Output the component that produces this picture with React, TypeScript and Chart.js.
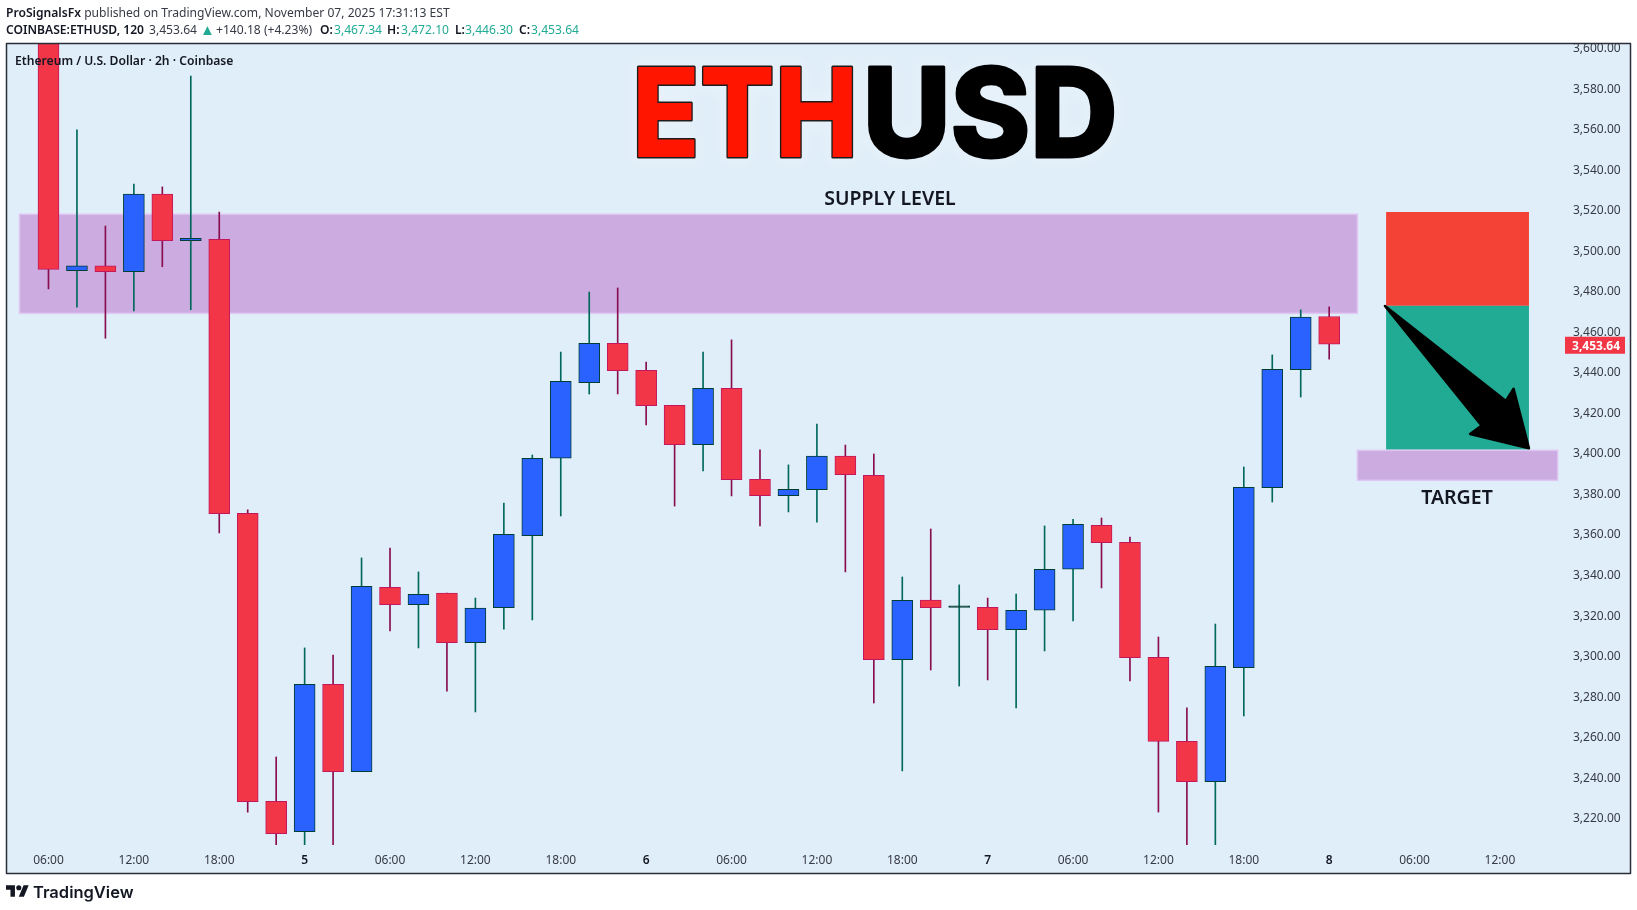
import React, { useEffect, useRef } from 'react'
import { Chart, type Plugin } from 'chart.js/auto'

// 2h candles, blue = up, red = down
const opens = [3650, 3490, 3492.3, 3489.5, 3527.7, 3504.8, 3505.4, 3370.2, 3228.1, 3213.1, 3285.8, 3242.7, 3333.7, 3325.1, 3330.8, 3306.4, 3323.6, 3359.2, 3397.4, 3434.7, 3454.1, 3440.8, 3423.5, 3404.1, 3431.9, 3387, 3378.9, 3381.9, 3398.4, 3389, 3298, 3327.4, 3323.8, 3323.8, 3312.8, 3322.4, 3342.6, 3364.3, 3355.9, 3299.2, 3257.7, 3237.8, 3294, 3382.9, 3441.1, 3467.34]
const highs = [3655, 3559.4, 3512, 3532.7, 3531.3, 3586, 3518.9, 3371.9, 3250, 3303.8, 3300.3, 3348.2, 3353.1, 3341.3, 3330.8, 3328.4, 3375.3, 3399, 3449.8, 3479.4, 3481.4, 3444.9, 3423.5, 3449.8, 3455.8, 3401.5, 3394.1, 3414.3, 3403.9, 3399.5, 3338.8, 3362.5, 3334.9, 3328.4, 3330.4, 3364, 3367.3, 3367.9, 3358.5, 3309.2, 3274.2, 3315.6, 3393.1, 3448.4, 3470.6, 3472.1]
const lows = [3481, 3472, 3456.6, 3470.1, 3491.9, 3470.7, 3360.5, 3222.8, 3206.5, 3206.5, 3206.5, 3242.7, 3312.2, 3303.8, 3282.5, 3272.2, 3313.1, 3317.6, 3368.9, 3429.1, 3429.1, 3413.8, 3373.8, 3391.1, 3378.8, 3364, 3370.9, 3365.9, 3341.3, 3276.6, 3243.1, 3292.9, 3285, 3288, 3274.2, 3302.3, 3317.1, 3333.4, 3287.5, 3222.8, 3206.7, 3206.7, 3270.2, 3375.8, 3427.6, 3446.3]
const closes = [3490.6, 3492.3, 3489.5, 3527.7, 3504.8, 3505.9, 3370, 3227.9, 3212.1, 3285.8, 3242.7, 3334.2, 3325.1, 3330.3, 3306.4, 3323.4, 3359.9, 3397.4, 3435.4, 3454.1, 3440.6, 3423.3, 3404.1, 3431.9, 3386.8, 3378.9, 3382.1, 3398.4, 3389.3, 3298, 3327.3, 3323.6, 3323.9, 3312.8, 3322.4, 3342.6, 3364.8, 3355.7, 3299, 3257.7, 3237.8, 3294.7, 3383.1, 3441.3, 3467, 3453.64]

// one label every 3 candles, starting at the first
const timeLabels = ['06:00', '12:00', '18:00', '5', '06:00', '12:00', '18:00', '6', '06:00', '12:00', '18:00', '7', '06:00', '12:00', '18:00', '8', '06:00', '12:00']
const dayLabels = ['5', '6', '7', '8']

const lastPrice = 3453.64

// [from candle, to candle, top price, bottom price]
const supplyZone = [-1.02, 45.99, 3517.8, 3468.9]
const targetZone = [45.99, 53.03, 3401.3, 3386.5]
const riskBox = [47.0, 52.02, 3518.9, 3472.6]
const rewardBox = [47.0, 52.02, 3472.6, 3401.6]
// [candle, price]
const arrowShape = [[46.96, 3472.5], [51.21, 3425.65], [51.48, 3431.7], [52.02, 3402.3], [49.95, 3409.4], [50.36, 3413.5]]

const UI_FONT = '"Noto Sans", sans-serif'
const BG = '#e0eef9'

const isDayTick = (c: any) => c.tick !== undefined && dayLabels.includes(timeLabels[Math.round(c.tick.value / 3)])

const annotations: Plugin<'bar'> = {
    id: 'annotations',
    beforeDraw(chart) {
        const { ctx } = chart
        ctx.save()
        ctx.fillStyle = BG
        ctx.fillRect(6.5, 43.5, 1624, 830)
        ctx.restore()
    },
    beforeDatasetsDraw(chart) {
        const { ctx, scales } = chart
        const x = scales.x
        const y = scales.y
        const box = (z: number[], fill: string, stroke?: string) => {
            const px = x.getPixelForValue(z[0])
            const py = y.getPixelForValue(z[2])
            const w = x.getPixelForValue(z[1]) - px
            const h = y.getPixelForValue(z[3]) - py
            ctx.fillStyle = fill
            ctx.fillRect(px, py, w, h)
            if (stroke) {
                ctx.strokeStyle = stroke
                ctx.lineWidth = 1.5
                ctx.strokeRect(px, py, w, h)
            }
        }
        ctx.save()
        box(riskBox, '#f44336')
        box(rewardBox, '#22ab94')
        box(supplyZone, '#cbabe0', '#dfc6f3')
        box(targetZone, '#cbabe0', '#dfc6f3')
        ctx.restore()
    },
    afterDraw(chart) {
        const { ctx, scales } = chart
        const x = scales.x
        const y = scales.y
        ctx.save()

        // arrow
        ctx.beginPath()
        arrowShape.forEach(([c, p], i) => {
            const px = x.getPixelForValue(c)
            const py = y.getPixelForValue(p)
            if (i === 0) ctx.moveTo(px, py)
            else ctx.lineTo(px, py)
        })
        ctx.closePath()
        ctx.fillStyle = '#000000'
        ctx.strokeStyle = '#000000'
        ctx.lineWidth = 2.5
        ctx.lineJoin = 'round'
        ctx.fill()
        ctx.stroke()

        // big title, fitted to its width
        const title = (text: string, left: number, width: number, fill: string, stroke: string) => {
            ctx.save()
            ctx.font = '800 124px Inter, sans-serif'
            const scale = width / ctx.measureText(text).width
            ctx.translate(left, 157)
            ctx.scale(scale, 1)
            ctx.lineJoin = 'round'
            ctx.lineWidth = 3
            ctx.strokeStyle = stroke
            ctx.fillStyle = fill
            ctx.textBaseline = 'alphabetic'
            ctx.shadowColor = 'rgba(255,255,255,0.95)'
            ctx.shadowBlur = 16
            ctx.strokeText(text, 0, 0)
            ctx.shadowBlur = 0
            ctx.fillText(text, 0, 0)
            ctx.restore()
        }
        title('ETH', 632, 226, '#ff1500', '#1c1c1c')
        title('USD', 862.7, 255, '#000000', '#000000')

        ctx.textBaseline = 'middle'
        ctx.textAlign = 'center'
        ctx.fillStyle = '#131722'
        ctx.font = `600 19.5px ${UI_FONT}`
        ctx.fillText('SUPPLY LEVEL', 890, 199)
        ctx.fillText('TARGET', 1457, 498)

        ctx.textAlign = 'left'
        ctx.font = `600 12.15px ${UI_FONT}`
        ctx.fillText('Ethereum / U.S. Dollar · 2h · Coinbase', 15, 61.5)

        // last price tag
        const tagY = y.getPixelForValue(lastPrice) + 1
        ctx.fillStyle = '#f23645'
        ctx.fillRect(1565, tagY - 8.5, 60, 17)
        ctx.fillStyle = '#ffffff'
        ctx.textAlign = 'right'
        ctx.font = `700 12px ${UI_FONT}`
        ctx.fillText(lastPrice.toLocaleString('en-US', { minimumFractionDigits: 2 }), 1620, tagY + 1)

        // panel frame
        ctx.strokeStyle = '#2a2e39'
        ctx.lineWidth = 1.5
        ctx.strokeRect(6.5, 43.5, 1624, 830)
        ctx.restore()
    },
}

const ETHUSDChart = () => {
    const canvasRef = useRef<HTMLCanvasElement | null>(null)

    useEffect(() => {
        if (!canvasRef.current) return

        const isUp = opens.map((o, i) => closes[i] >= o)
        const isDoji = opens.map((o, i) => Math.abs(closes[i] - o) < 0.5)

        const chart = new Chart(canvasRef.current, {
            type: 'bar',
            data: {
                datasets: [
                    {
                        label: 'body',
                        order: 1,
                        data: opens.map((o, i) => ({ x: i, y: [o, closes[i]] })) as any,
                        backgroundColor: isUp.map((u, i) => (isDoji[i] ? '#003d33' : u ? '#2962ff' : '#f23648')),
                        borderColor: isUp.map(u => (u ? '#003d33' : '#c2185b')),
                        borderWidth: 1,
                        borderSkipped: false,
                        barThickness: 21,
                        minBarLength: 1.5,
                        grouped: false,
                    },
                    {
                        label: 'wick',
                        order: 2,
                        data: lows.map((l, i) => ({ x: i, y: [l, highs[i]] })) as any,
                        backgroundColor: isUp.map(u => (u ? '#00695c' : '#880e4f')),
                        borderWidth: 0,
                        barThickness: 1,
                        grouped: false,
                    },
                ],
            },
            options: {
                responsive: false,
                animation: false,
                layout: { padding: { left: 7, top: 44, right: 6.5, bottom: 37 } },
                plugins: { legend: { display: false }, tooltip: { enabled: false } },
                scales: {
                    x: {
                        type: 'linear',
                        offset: false,
                        min: -1.458,
                        max: 53.286,
                        grid: { display: false, drawTicks: false },
                        border: { display: false },
                        afterFit: (scale: any) => { scale.height = 28 },
                        ticks: {
                            stepSize: 3,
                            includeBounds: false,
                            autoSkip: false,
                            maxRotation: 0,
                            padding: 8,
                            color: (c: any) => (isDayTick(c) ? '#131722' : '#363a45'),
                            font: (c: any) => ({
                                family: UI_FONT,
                                size: 12,
                                weight: isDayTick(c) ? 600 : 400,
                            }),
                            callback: (v: any) => timeLabels[Math.round(Number(v) / 3)],
                        },
                    },
                    y: {
                        type: 'linear',
                        position: 'right',
                        min: 3206.55,
                        max: 3601.8,
                        grid: { display: false, drawTicks: false },
                        border: { display: false },
                        afterFit: (scale: any) => { scale.width = 65.5 },
                        ticks: {
                            stepSize: 20,
                            includeBounds: false,
                            autoSkip: false,
                            padding: 8,
                            labelOffset: 1,
                            color: '#363a45',
                            font: { family: UI_FONT, size: 12 },
                            callback: (v: any) => Number(v).toLocaleString('en-US', { minimumFractionDigits: 2 }),
                        },
                    },
                },
            },
            plugins: [annotations],
        })

        return () => {
            chart.destroy()
        }
    }, [])

    return <canvas ref={canvasRef} width={1637} height={910} style={{ position: 'absolute', left: 0, top: 0 }}></canvas>
}

const b = { fontWeight: 600, color: '#131722' }
const g = { color: '#22ab94' }
const abs = (left: number): React.CSSProperties => ({ position: 'absolute', left, whiteSpace: 'pre' })

const App = () => {
    return (
        <div style={{ position: 'absolute', left: 0, top: 0, width: 1637, height: 910, background: '#ffffff', overflow: 'hidden', fontFamily: UI_FONT, fontSize: 12.1, color: '#363a45' }}>
            <ETHUSDChart />
            <div style={{ position: 'absolute', left: 6, top: 4, height: 17, lineHeight: '17px', whiteSpace: 'pre' }}>
                <span style={b}>ProSignalsFx</span> published on TradingView.com, November 07, 2025 17:31:13 EST
            </div>
            <div style={{ position: 'absolute', left: 0, top: 21, height: 17, lineHeight: '17px' }}>
                <span style={{ ...abs(6), ...b }}>COINBASE:ETHUSD, 120</span>
                <span style={abs(149)}>3,453.64</span>
                <span style={{ ...abs(200), ...g, fontSize: 15 }}>▲</span>
                <span style={abs(216)}>+140.18 (+4.23%)</span>
                <span style={{ ...abs(320), ...b }}>O:</span>
                <span style={{ ...abs(334), ...g }}>3,467.34</span>
                <span style={{ ...abs(387), ...b }}>H:</span>
                <span style={{ ...abs(401), ...g }}>3,472.10</span>
                <span style={{ ...abs(455), ...b }}>L:</span>
                <span style={{ ...abs(465), ...g }}>3,446.30</span>
                <span style={{ ...abs(519), ...b }}>C:</span>
                <span style={{ ...abs(531), ...g }}>3,453.64</span>
            </div>
            <svg width={23} height={12} viewBox="0 0 36 18" style={{ position: 'absolute', left: 6, top: 885 }}>
                <path d="M14 18H7V7H0V0h14v18zM28 18h-8l7.5-18h8L28 18z" fill="#131722" />
                <circle cx={20} cy={4} r={4} fill="#131722" />
            </svg>
            <div style={{ position: 'absolute', left: 33, top: 881, fontFamily: 'Inter, sans-serif', fontWeight: 600, fontSize: 16.5, lineHeight: '22px', color: '#131722' }}>TradingView</div>
        </div>
    )
}

export default App
